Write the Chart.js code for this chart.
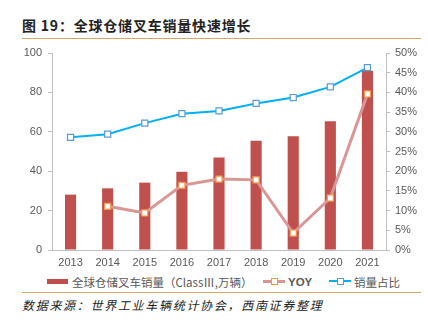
<!DOCTYPE html>
<html lang="zh-CN">
<head>
    <meta charset="UTF-8">
    <title>全球仓储叉车销量快速增长</title>
    <script src="https://cdn.jsdelivr.net/npm/chart.js"></script>
    <style>
        body {
            margin: 0;
            width: 428px;
            height: 322px;
            background: #fff;
            position: relative;
            overflow: hidden;
            font-family: "Liberation Sans", Arial, "Noto Sans CJK SC", sans-serif;
        }
        .title {
            position: absolute;
            left: 22px;
            top: 15px;
            font-family: "Noto Sans CJK SC", sans-serif;
            font-weight: bold;
            font-size: 14px;
            letter-spacing: 0.8px;
            color: #222;
        }
        .rule {
            position: absolute;
            left: 22px;
            width: 399px;
            height: 1px;
            background: #d9a465;
        }
        .chart-box {
            position: absolute;
            left: 0;
            top: 40px;
            width: 428px;
            height: 232px;
        }
        .legend {
            position: absolute;
            top: 274px;
            left: 0;
            width: 428px;
            height: 16px;
            font-size: 11.5px;
            color: #595959;
            font-family: "Noto Sans CJK SC", sans-serif;
        }
        .legend .item {
            position: absolute;
            top: 0;
            line-height: 16px;
            white-space: nowrap;
        }
        .swatch-bar {
            position: absolute;
            width: 21px;
            height: 5px;
            background: #c0504d;
            top: 5px;
        }
        .swatch-line {
            position: absolute;
            width: 22px;
            top: 6px;
            height: 3px;
        }
        .swatch-line span {
            position: absolute;
            left: 8px;
            top: -2px;
            width: 5px;
            height: 5px;
            background: #fff;
            border: 1px solid;
        }
        .source {
            position: absolute;
            left: 22px;
            top: 296px;
            font-family: "Noto Sans CJK SC", sans-serif;
            font-style: italic;
            font-size: 12px;
            letter-spacing: 1.7px;
            color: #222;
        }
    </style>
</head>
<body>
    <div class="title">图 19：全球仓储叉车销量快速增长</div>
    <div class="rule" style="top:38px"></div>

    <div class="chart-box">
        <canvas id="salesChart" width="428" height="232"></canvas>
    </div>

    <div class="legend">
        <div class="swatch-bar" style="left:47px"></div>
        <div class="item" style="left:72px">全球仓储叉车销量（ClassⅢ,万辆）</div>
        <div class="swatch-line" style="left:263px; background:#d99694"><span style="border-color:#f79646"></span></div>
        <div class="item" style="left:288px; font-weight:bold; font-family:'Liberation Sans', Arial, sans-serif">YOY</div>
        <div class="swatch-line" style="left:329px; background:#00b0f0; height:2px"><span style="border-color:#5b9bd5"></span></div>
        <div class="item" style="left:354px">销量占比</div>
    </div>
    <div class="rule" style="top:292px"></div>

    <div class="source">数据来源：世界工业车辆统计协会，西南证券整理</div>

    <script>
        // Data
        const years = ['2013', '2014', '2015', '2016', '2017', '2018', '2019', '2020', '2021'];

        const salesVolume = [28.1, 31.3, 34.2, 39.7, 47.0, 55.4, 57.7, 65.3, 91.0];   // 万辆
        const yoyGrowth = [null, 11.1, 9.4, 16.4, 18.0, 17.8, 4.3, 13.2, 39.6];        // %
        const salesShare = [28.6, 29.4, 32.2, 34.6, 35.3, 37.2, 38.7, 41.4, 46.3];     // %

        const tickFont = { family: '"Liberation Sans", Arial, sans-serif', size: 11 };
        const tickColor = '#595959';
        const axisColor = '#bfbfbf';

        const ctx = document.getElementById('salesChart').getContext('2d');
        new Chart(ctx, {
            data: {
                labels: years,
                datasets: [
                    {
                        type: 'bar',
                        label: '全球仓储叉车销量（ClassⅢ,万辆）',
                        data: salesVolume,
                        backgroundColor: '#c0504d',
                        categoryPercentage: 1,
                        barPercentage: 0.3,
                        yAxisID: 'y',
                        order: 3
                    },
                    {
                        type: 'line',
                        label: 'YOY',
                        data: yoyGrowth,
                        borderColor: '#d99694',
                        borderWidth: 3,
                        pointStyle: 'rect',
                        pointRadius: 4.3,
                        pointBorderWidth: 1.2,
                        pointBackgroundColor: '#ffffff',
                        pointBorderColor: '#f79646',
                        tension: 0,
                        yAxisID: 'y1',
                        order: 2
                    },
                    {
                        type: 'line',
                        label: '销量占比',
                        data: salesShare,
                        borderColor: '#00b0f0',
                        borderWidth: 2,
                        pointStyle: 'rect',
                        pointRadius: 4.3,
                        pointBorderWidth: 1.2,
                        pointBackgroundColor: '#ffffff',
                        pointBorderColor: '#5b9bd5',
                        tension: 0,
                        yAxisID: 'y1',
                        order: 1
                    }
                ]
            },
            options: {
                responsive: false,
                animation: false,
                layout: { padding: { top: 13, left: 0, right: 0, bottom: 0 } },
                scales: {
                    x: {
                        grid: { display: false, drawTicks: false },
                        border: { display: true, color: axisColor },
                        ticks: { color: tickColor, font: tickFont, padding: 6, maxRotation: 0 },
                        afterFit: function(scale) { scale.height = 22; }
                    },
                    y: {
                        position: 'left',
                        min: 0,
                        max: 100,
                        grid: { drawOnChartArea: false, drawTicks: true, tickLength: 4, color: axisColor },
                        border: { display: true, color: axisColor },
                        ticks: { stepSize: 20, color: tickColor, font: tickFont, padding: 6 },
                        afterFit: function(scale) { scale.width = 52; }
                    },
                    y1: {
                        position: 'right',
                        min: 0,
                        max: 50,
                        grid: { drawOnChartArea: false, drawTicks: true, tickLength: 4, color: axisColor },
                        border: { display: true, color: axisColor },
                        ticks: {
                            stepSize: 5,
                            color: tickColor,
                            font: tickFont,
                            padding: 5,
                            callback: function(value) { return value + '%'; }
                        },
                        afterFit: function(scale) { scale.width = 42; }
                    }
                },
                plugins: {
                    legend: { display: false },
                    tooltip: { enabled: false }
                }
            }
        });
    </script>
</body>
</html>
